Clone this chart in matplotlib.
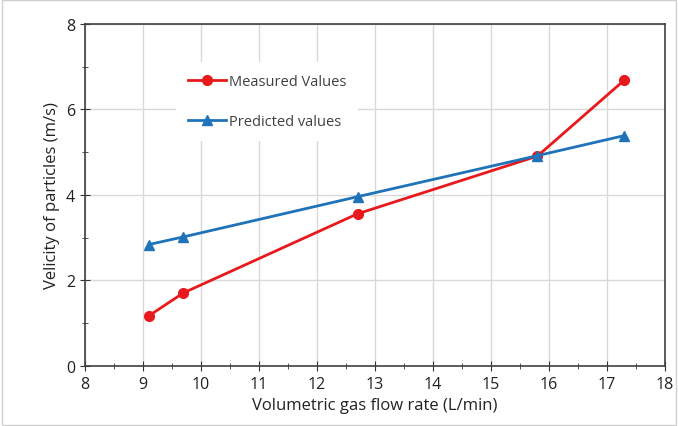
import matplotlib.pyplot as plt
from matplotlib.ticker import MultipleLocator

flow = [9.1, 9.7, 12.7, 15.8, 17.3]
measured = [1.17, 1.71, 3.56, 4.91, 6.69]
predicted = [2.84, 3.02, 3.96, 4.92, 5.39]

plt.rcParams['font.family'] = ['Open Sans', 'DejaVu Sans']

fig = plt.figure(figsize=(6.78, 4.27), dpi=100)
ax = fig.add_axes([0.125, 0.1405, 0.856, 0.801])

ax.plot(flow, measured, color='#e8191d', lw=2, marker='o', ms=7, label='Measured Values', zorder=3)
ax.plot(flow, predicted, color='#1f73b8', lw=2, marker='^', ms=7, label='Predicted values', zorder=3)

ax.set_xlim(8, 18)
ax.set_ylim(0, 8)
ax.xaxis.set_major_locator(MultipleLocator(1))
ax.xaxis.set_minor_locator(MultipleLocator(0.5))
ax.yaxis.set_major_locator(MultipleLocator(2))
ax.yaxis.set_minor_locator(MultipleLocator(1))
ax.tick_params(which='both', direction='inout', colors='#333333', labelcolor='#222222', labelsize=11.5)
ax.tick_params(which='major', length=7)
ax.tick_params(which='minor', length=4)
ax.grid(True, which='major', color='#d9d9d9', lw=1)
ax.set_axisbelow(True)
for s in ax.spines.values():
    s.set_color('#404040')
    s.set_linewidth(1.2)

ax.set_xlabel('Volumetric gas flow rate (L/min)', fontsize=12, color='#222222')
ax.set_ylabel('Velicity of particles (m/s)', fontsize=12, color='#222222')

leg = ax.legend(loc='upper left', bbox_to_anchor=(0.145, 0.91), frameon=True, fontsize=10.5,
                labelspacing=1.75, handlelength=2.6, handletextpad=0.2, borderpad=0.8)
leg.get_frame().set_edgecolor('none')
leg.get_frame().set_facecolor('white')
leg.get_frame().set_alpha(1)
for t in leg.get_texts():
    t.set_color('#404040')

fig.patches.append(plt.Rectangle((0.003, 0.003), 0.994, 0.994, transform=fig.transFigure,
                                 fill=False, edgecolor='#d0d0d0', lw=1))

fig.savefig('out.png', dpi=100)
